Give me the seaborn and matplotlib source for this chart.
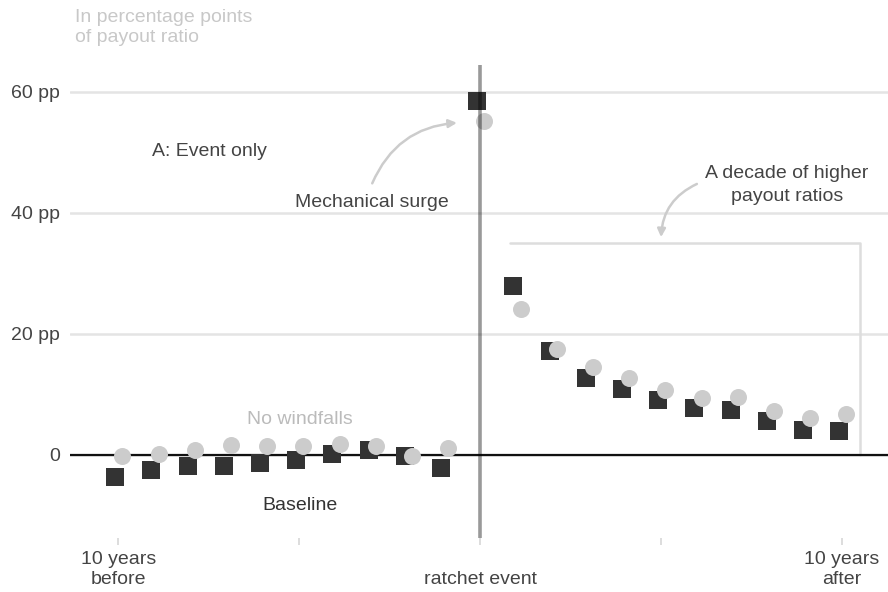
import pandas as pd
import matplotlib
matplotlib.use('Agg')
import matplotlib.pyplot as plt
import seaborn as sns

# Event-study values (percentage points of payout ratio)
years = list(range(-10, 11))
event_only = [-3.7, -2.5, -1.9, -1.8, -1.3, -0.9, 0.2, 0.8, -0.1, -2.1,
              58.5,
              28.0, 17.2, 12.8, 10.9, 9.1, 7.7, 7.4, 5.7, 4.2, 4.0]
no_windfalls = [-0.2, 0.1, 0.9, 1.7, 1.5, 1.5, 1.8, 1.5, -0.2, 1.1,
                55.2,
                24.1, 17.6, 14.6, 12.7, 10.7, 9.5, 9.6, 7.2, 6.1, 6.8]
xtick_pos = [-10, -5, 0, 5, 10]
xtick_labels = ['10 years\nbefore', '', '\nratchet event', '', '10 years\nafter']
ytick_pos = [0, 20, 40, 60]
ytick_labels = ['0', '20 pp', '40 pp', '60 pp']

sns.set_theme(style='white')
plt.rcParams['font.family'] = ['Liberation Sans', 'DejaVu Sans']

df = pd.DataFrame({'year': years, 'event': event_only, 'none': no_windfalls})
df['x_event'] = df['year'] - 0.08
df['x_none'] = df['year'] + 0.12

fig = plt.figure(figsize=(8.88, 5.92), dpi=100)
ax = fig.add_axes([70 / 888, 1 - 538 / 592, 1 - 70 / 888, (538 - 65) / 592])

ax.axhline(0, color='#111111', lw=1.6, zorder=2)
sns.scatterplot(data=df, x='x_event', y='event', marker='s', s=150,
                color='#333333', linewidth=0, ax=ax, zorder=3)
sns.scatterplot(data=df, x='x_none', y='none', marker='o', s=150,
                color='#cccccc', linewidth=0, ax=ax, zorder=4)
ax.axvline(0, color='black', alpha=0.4, lw=2.6, zorder=5)

# bracket marking the post-event decade
ax.plot([0.83, 10.5, 10.5], [35, 35, 0], color='#dddddd', lw=1.8, zorder=1)

ax.set_xlim(-11.33, 11.27)
ax.set_ylim(-13.72, 64.46)
ax.set_xticks(xtick_pos)
ax.set_xticklabels(xtick_labels, color='#444444', fontsize=14, linespacing=1.25)
ax.set_yticks(ytick_pos)
ax.set_yticklabels(ytick_labels, color='#444444', fontsize=14)
ax.tick_params(axis='y', left=False, length=0, pad=7)
ax.tick_params(axis='x', bottom=True, direction='out', length=5, width=1.4,
               color='#dddddd', pad=4)
ax.grid(axis='y', color='#e4e4e4', lw=1.8)
ax.set_axisbelow(True)
for sp in ax.spines.values():
    sp.set_visible(False)
ax.set_xlabel('')
ax.set_ylabel('')

ax.text(-7.48, 50.1, 'A: Event only', color='#444444', fontsize=14,
        ha='center', va='center')
ax.text(-4.97, 5.8, 'No windfalls', color='#bbbbbb', fontsize=14,
        ha='center', va='center')
ax.text(-4.97, -8.3, 'Baseline', color='#333333', fontsize=14,
        ha='center', va='center')
ax.text(-2.98, 41.8, 'Mechanical surge', color='#444444', fontsize=14,
        ha='center', va='center')
ax.text(8.48, 44.6, 'A decade of higher\npayout ratios', color='#444444',
        fontsize=14, ha='center', va='center', linespacing=1.45)

arrow = dict(arrowstyle='-|>,head_length=0.4,head_width=0.2', color='#cccccc',
             lw=1.8, shrinkA=0, shrinkB=0)
ax.annotate('', xy=(-0.64, 54.9), xytext=(-2.98, 44.9),
            arrowprops=dict(arrow, connectionstyle='arc3,rad=-0.3'))
ax.annotate('', xy=(5.0, 36.0), xytext=(5.99, 44.8),
            arrowprops=dict(arrow, connectionstyle='arc3,rad=0.3'))

fig.text(75 / 888, 1 - 9 / 592, 'In percentage points\nof payout ratio',
         color='#c8c8c8', fontsize=14, ha='left', va='top', linespacing=1.25)

fig.savefig('out.png', dpi=100)
